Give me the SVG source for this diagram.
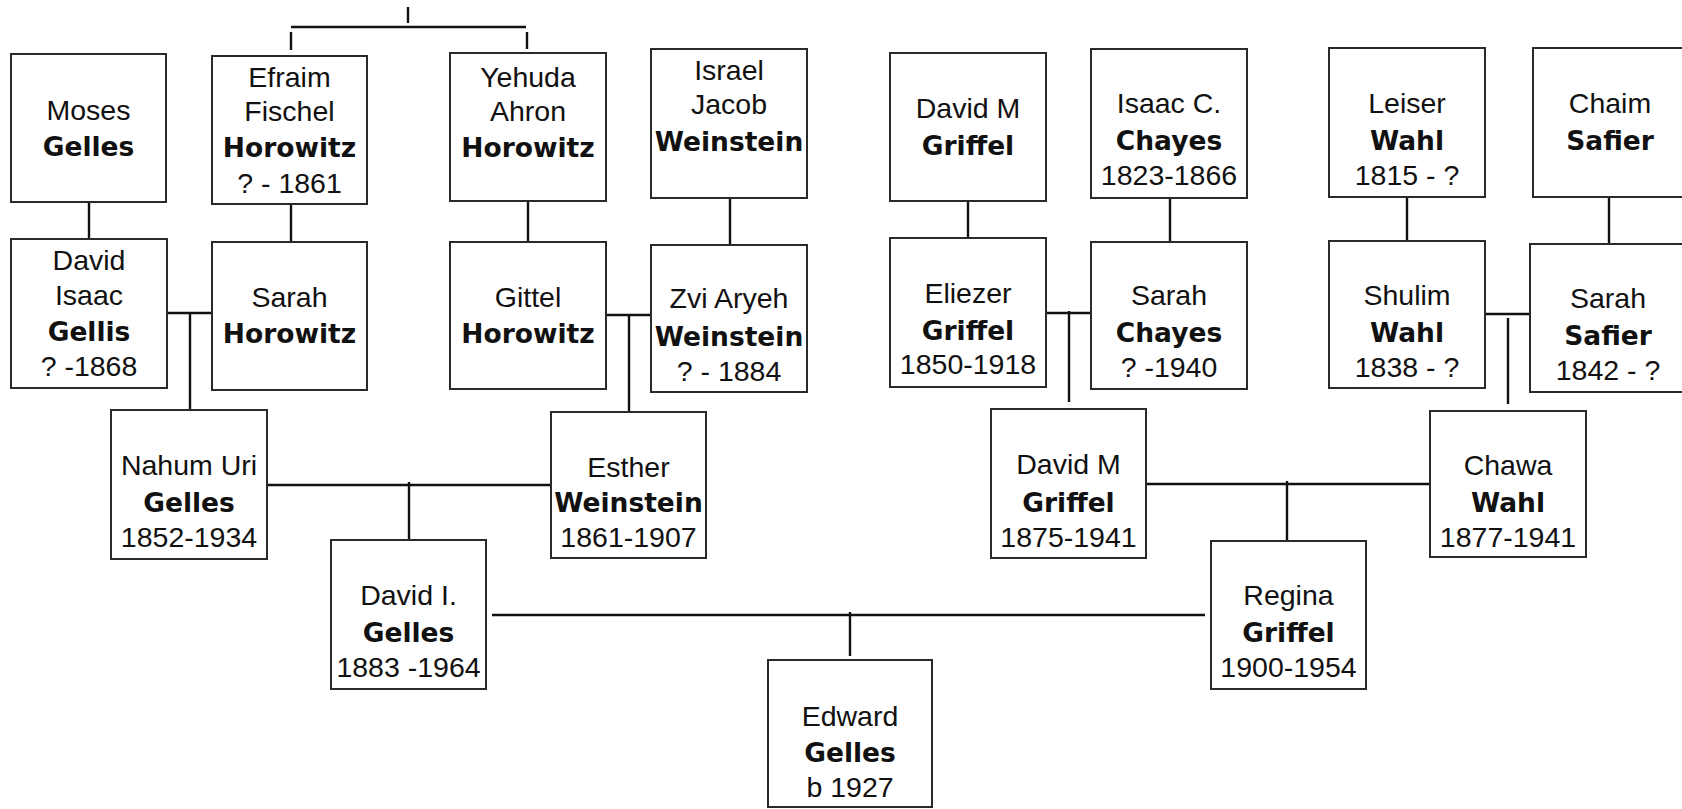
<svg xmlns="http://www.w3.org/2000/svg" width="1682" height="809" viewBox="0 0 1682 809">
<style>
.box{fill:#fff;stroke:#2a2a2a;stroke-width:2}
.t{font-family:"Liberation Sans",Arial,sans-serif;font-size:28.5px;text-anchor:middle;fill:#111}
.b{font-family:"DejaVu Sans","Liberation Sans",sans-serif;font-weight:bold;font-size:26.5px}
.ln{stroke:#111;stroke-width:2.4;fill:none}
</style>
<rect width="1682" height="809" fill="#fff"/>
<g id="connectors" class="ln">
<path d="M408 7V23M291 27H526M291 32V50M527 32V49"/>
<path d="M89 202V239M291 204V242M528 201V242M730 198V245M968 201V238M1170 198V242M1407 197V241M1609 197V244"/>
<path d="M167 313H212M190 313V409"/>
<path d="M606 315H651M629 315V411"/>
<path d="M1046 313H1091M1069 311V402"/>
<path d="M1485 314H1530M1508 318V404"/>
<path d="M267 485H551M409 482V540"/>
<path d="M1146 484H1430M1287 481V541"/>
<path d="M492 615H1205M850 612V656"/>
</g>
<g id="moses-gelles"><rect class="box" x="11" y="54" width="155" height="148"/>
<text class="t" x="88.5" y="120">Moses</text><text class="t b" x="88.5" y="156">Gelles</text></g>
<g id="efraim-horowitz"><rect class="box" x="212" y="56" width="155" height="148"/>
<text class="t" x="289.5" y="87">Efraim</text><text class="t" x="289.5" y="121">Fischel</text><text class="t b" x="289.5" y="157">Horowitz</text><text class="t" x="289.5" y="193">? - 1861</text></g>
<g id="yehuda-horowitz"><rect class="box" x="450" y="53" width="156" height="148"/>
<text class="t" x="528" y="87">Yehuda</text><text class="t" x="528" y="121">Ahron</text><text class="t b" x="528" y="157">Horowitz</text></g>
<g id="israel-weinstein"><rect class="box" x="651" y="49" width="156" height="149"/>
<text class="t" x="729" y="80">Israel</text><text class="t" x="729" y="114">Jacob</text><text class="t b" x="729" y="151">Weinstein</text></g>
<g id="davidm-griffel-sr"><rect class="box" x="890" y="53" width="156" height="148"/>
<text class="t" x="968" y="118">David M</text><text class="t b" x="968" y="155">Griffel</text></g>
<g id="isaac-chayes"><rect class="box" x="1091" y="49" width="156" height="149"/>
<text class="t" x="1169" y="113">Isaac C.</text><text class="t b" x="1169" y="150">Chayes</text><text class="t" x="1169" y="185">1823-1866</text></g>
<g id="leiser-wahl"><rect class="box" x="1329" y="48" width="156" height="149"/>
<text class="t" x="1407" y="113">Leiser</text><text class="t b" x="1407" y="150">Wahl</text><text class="t" x="1407" y="185">1815 - ?</text></g>
<g id="chaim-safier"><rect class="box" x="1533" y="48" width="160" height="149"/>
<text class="t" x="1610" y="113">Chaim</text><text class="t b" x="1610" y="150">Safier</text></g>
<g id="david-isaac-gellis"><rect class="box" x="11" y="239" width="156" height="149"/>
<text class="t" x="89" y="270">David</text><text class="t" x="89" y="305">Isaac</text><text class="t b" x="89" y="341">Gellis</text><text class="t" x="89" y="376">? -1868</text></g>
<g id="sarah-horowitz"><rect class="box" x="212" y="242" width="155" height="148"/>
<text class="t" x="289.5" y="307">Sarah</text><text class="t b" x="289.5" y="343">Horowitz</text></g>
<g id="gittel-horowitz"><rect class="box" x="450" y="242" width="156" height="147"/>
<text class="t" x="528" y="307">Gittel</text><text class="t b" x="528" y="343">Horowitz</text></g>
<g id="zvi-weinstein"><rect class="box" x="651" y="245" width="156" height="147"/>
<text class="t" x="729" y="308">Zvi Aryeh</text><text class="t b" x="729" y="346">Weinstein</text><text class="t" x="729" y="381">? - 1884</text></g>
<g id="eliezer-griffel"><rect class="box" x="890" y="238" width="156" height="149"/>
<text class="t" x="968" y="303">Eliezer</text><text class="t b" x="968" y="340">Griffel</text><text class="t" x="968" y="374">1850-1918</text></g>
<g id="sarah-chayes"><rect class="box" x="1091" y="242" width="156" height="147"/>
<text class="t" x="1169" y="305">Sarah</text><text class="t b" x="1169" y="342">Chayes</text><text class="t" x="1169" y="377">? -1940</text></g>
<g id="shulim-wahl"><rect class="box" x="1329" y="241" width="156" height="147"/>
<text class="t" x="1407" y="305">Shulim</text><text class="t b" x="1407" y="342">Wahl</text><text class="t" x="1407" y="377">1838 - ?</text></g>
<g id="sarah-safier"><rect class="box" x="1530" y="244" width="160" height="148"/>
<text class="t" x="1608" y="308">Sarah</text><text class="t b" x="1608" y="345">Safier</text><text class="t" x="1608" y="380">1842 - ?</text></g>
<g id="nahum-gelles"><rect class="box" x="111" y="410" width="156" height="149"/>
<text class="t" x="189" y="475">Nahum Uri</text><text class="t b" x="189" y="512">Gelles</text><text class="t" x="189" y="547">1852-1934</text></g>
<g id="esther-weinstein"><rect class="box" x="551" y="412" width="155" height="146"/>
<text class="t" x="628.5" y="477">Esther</text><text class="t b" x="628.5" y="512">Weinstein</text><text class="t" x="628.5" y="547">1861-1907</text></g>
<g id="davidm-griffel"><rect class="box" x="991" y="409" width="155" height="149"/>
<text class="t" x="1068.5" y="474">David M</text><text class="t b" x="1068.5" y="512">Griffel</text><text class="t" x="1068.5" y="547">1875-1941</text></g>
<g id="chawa-wahl"><rect class="box" x="1430" y="411" width="156" height="146"/>
<text class="t" x="1508" y="475">Chawa</text><text class="t b" x="1508" y="512">Wahl</text><text class="t" x="1508" y="547">1877-1941</text></g>
<g id="david-i-gelles"><rect class="box" x="331" y="540" width="155" height="149"/>
<text class="t" x="408.5" y="605">David I.</text><text class="t b" x="408.5" y="642">Gelles</text><text class="t" x="408.5" y="677">1883 -1964</text></g>
<g id="regina-griffel"><rect class="box" x="1211" y="541" width="155" height="148"/>
<text class="t" x="1288.5" y="605">Regina</text><text class="t b" x="1288.5" y="642">Griffel</text><text class="t" x="1288.5" y="677">1900-1954</text></g>
<g id="edward-gelles"><rect class="box" x="768" y="660" width="164" height="147"/>
<text class="t" x="850" y="726">Edward</text><text class="t b" x="850" y="762">Gelles</text><text class="t" x="850" y="797">b 1927</text></g>
</svg>
